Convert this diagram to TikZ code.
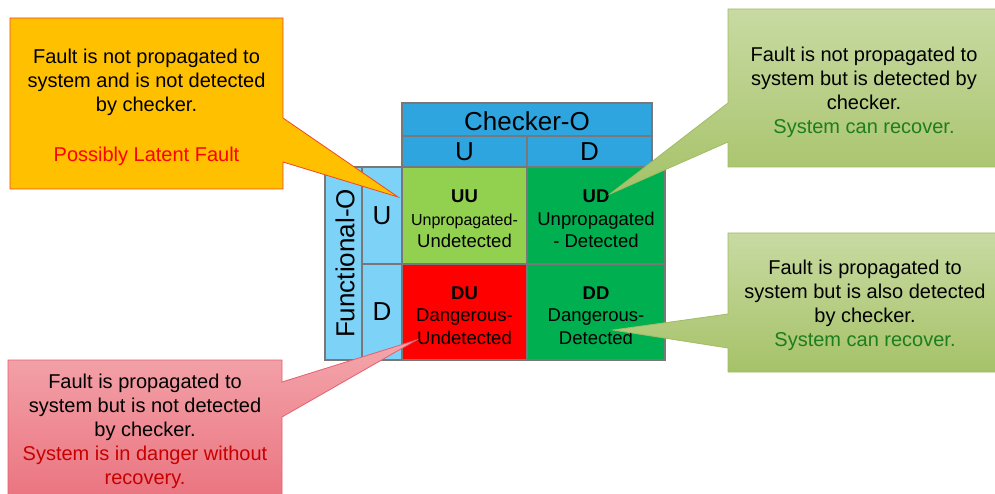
\documentclass[tikz,border=0pt]{standalone}
\usepackage{fontspec}
\setmainfont{Liberation Sans}
\usetikzlibrary{calc}
\definecolor{gridgray}{RGB}{120,120,120}
\definecolor{hdrblue}{RGB}{46,165,222}
\definecolor{lblue}{RGB}{125,211,247}
\definecolor{lgreen}{RGB}{146,208,80}
\definecolor{dgreen}{RGB}{0,176,80}
\definecolor{cellred}{RGB}{255,0,0}
\definecolor{orangefill}{RGB}{255,192,0}
\definecolor{orangeline}{RGB}{240,70,40}
\definecolor{gtop}{RGB}{200,218,162}
\definecolor{gbot}{RGB}{166,194,104}
\definecolor{gline}{RGB}{160,188,100}
\definecolor{ptop}{RGB}{244,166,172}
\definecolor{pbot}{RGB}{234,116,128}
\definecolor{pline}{RGB}{228,96,110}
\definecolor{recovergreen}{RGB}{30,125,30}
\definecolor{dangerred}{RGB}{200,0,0}
\begin{document}
\begin{tikzpicture}[x=1pt,y=-1pt,
  cell/.style={draw=gridgray, line width=2.5pt, inner sep=0pt, outer sep=0pt},
  big/.style={font=\fontsize{26}{30}\selectfont, text=black},
  celltxt/.style={font=\fontsize{18.5}{22.5}\selectfont, align=center, text=black},
  calltxt/.style={align=center, font=\fontsize{20}{24}\selectfont, text=black},
  orangecall/.style={fill=orangefill, draw=orangeline, line width=0.8pt, line join=miter},
  greencall/.style={top color=gtop, bottom color=gbot, draw=gline, line width=0.8pt},
  pinkcall/.style={top color=ptop, bottom color=pbot, draw=pline, line width=0.8pt}
]
\useasboundingbox (0,0) rectangle (995,494);

% matrix
\node[cell, fill=hdrblue, minimum width=250pt, minimum height=33pt] (chk) at (527,119.5) {};
\node[big] (chkt) at ($(chk.center)+(0,2)$) {Checker-O};
\node[cell, big, fill=hdrblue, minimum width=125pt, minimum height=31pt] (hu) at (464.5,151.5) {U};
\node[cell, big, fill=hdrblue, minimum width=125pt, minimum height=31pt] (hd) at (589.5,151.5) {D};
\node[cell, fill=lblue, minimum width=37pt, minimum height=193pt] (fun) at (343.5,263.5) {};
\node[big, rotate=90] (funtxt) at ($(fun.center)+(1.5,0)$) {Functional-O};
\node[cell, big, fill=lblue, minimum width=40pt, minimum height=97pt] (fu) at (382,215.5) {U};
\node[cell, big, fill=lblue, minimum width=40pt, minimum height=96pt] (fd) at (382,312) {D};
\node[cell, fill=lgreen, minimum width=125pt, minimum height=97pt] (uu) at (464.5,215.5) {};
\node[cell, fill=dgreen, minimum width=138pt, minimum height=97pt] (ud) at (596,215.5) {};
\node[cell, fill=cellred, minimum width=125pt, minimum height=96pt] (du) at (464.5,312) {};
\node[cell, fill=dgreen, minimum width=138pt, minimum height=96pt] (dd) at (596,312) {};
\node[celltxt] (uut) at ($(uu.center)+(0,3.5)$)
  {\textbf{UU}\\{\fontsize{16}{22.5}\selectfont Unpropagated-}\\Undetected};
\node[celltxt] (udt) at ($(ud.center)+(0,3.5)$) {\textbf{UD}\\Unpropagated\\- Detected};
\node[celltxt] (dut) at ($(du.center)+(0,3.5)$) {\textbf{DU}\\Dangerous-\\Undetected};
\node[celltxt] (ddt) at ($(dd.center)+(0,3.5)$) {\textbf{DD}\\Dangerous-\\Detected};

% callout tips
\coordinate (tip1) at ($(uu.north west)+(-4,30)$);
\coordinate (tip2) at ($(ud.center)+(14,-21.5)$);
\coordinate (tip3) at ($(dd.center)+(17,18)$);
\coordinate (tip4) at ($(du.center)+(-48,28)$);

% callouts
\filldraw[orangecall] (10,18) -- (283,18) -- (283,118) -- (tip1) -- (283,162) -- (283,189) -- (10,189) -- cycle;
\node[calltxt] (t1) at (146.5,107) {Fault is not propagated to\\system and is not detected\\by checker.\\[26pt]\textcolor{red}{Possibly Latent Fault}};

\shadedraw[greencall] (728,9) -- (1000,9) -- (1000,167) -- (728,167) -- (728,142) -- (tip2) -- (728,103) -- cycle;
\node[calltxt] (t2) at (864,92.5) {Fault is not propagated to\\system but is detected by\\checker.\\\textcolor{recovergreen}{System can recover.}};

\shadedraw[greencall] (728,233) -- (1000,233) -- (1000,372) -- (728,372) -- (728,348) -- (tip3) -- (728,314) -- cycle;
\node[calltxt] (t3) at (865,305) {Fault is propagated to\\system but is also detected\\by checker.\\\textcolor{recovergreen}{System can recover.}};

\shadedraw[pinkcall] (8,360) -- (282,360) -- (282,382) -- (tip4) -- (282,417) -- (282,500) -- (8,500) -- cycle;
\node[calltxt] (t4) at (145,431) {Fault is propagated to\\system but is not detected\\by checker.\\\textcolor{dangerred}{System is in danger without}\\\textcolor{dangerred}{recovery.}};
\end{tikzpicture}
\end{document}
